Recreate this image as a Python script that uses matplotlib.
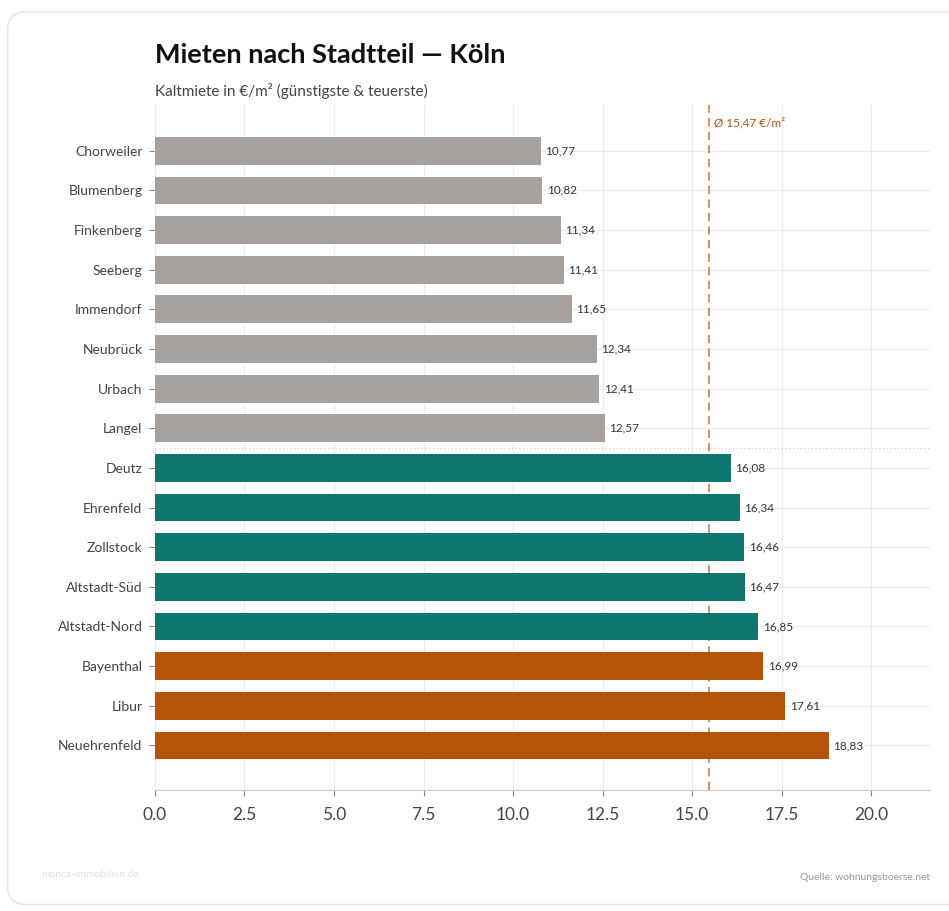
import matplotlib.pyplot as plt
from matplotlib.patches import FancyBboxPatch

# Kaltmiete in €/m², günstigste 8 und teuerste 8 Stadtteile
districts = ['Chorweiler', 'Blumenberg', 'Finkenberg', 'Seeberg', 'Immendorf',
             'Neubrück', 'Urbach', 'Langel', 'Deutz', 'Ehrenfeld', 'Zollstock',
             'Altstadt-Süd', 'Altstadt-Nord', 'Bayenthal', 'Libur', 'Neuehrenfeld']
rents = [10.77, 10.82, 11.34, 11.41, 11.65, 12.34, 12.41, 12.57,
         16.08, 16.34, 16.46, 16.47, 16.85, 16.99, 17.61, 18.83]
groups = ['low'] * 8 + ['high'] * 5 + ['top'] * 3
average = 15.47

colors = {'low': '#a8a29e', 'high': '#0f766e', 'top': '#b45309'}
plt.rcParams['font.family'] = ['Lato', 'DejaVu Sans']

fig = plt.figure(figsize=(9.49, 9.11), dpi=100)
fig.patch.set_facecolor('white')

# card background
card = FancyBboxPatch((0.008, 0.007), 1.05, 0.98, transform=fig.transFigure,
                      boxstyle='round,pad=0,rounding_size=0.02',
                      facecolor='white', edgecolor='#e8e8e8', linewidth=1.2, zorder=-10)
fig.patches.append(card)

ax = fig.add_axes([0.1633, 0.133, 0.817, 0.752])
ax.set_facecolor('none')
ypos = list(range(len(districts)))
ax.barh(ypos, rents, height=0.7, color=[colors[g] for g in groups], zorder=2)

for y, v in zip(ypos, rents):
    ax.text(v + 0.12, y, f'{v:.2f}'.replace('.', ','), va='center', ha='left',
            fontsize=8.5, color='#333333', zorder=3)

# Durchschnittslinie hinter den Balken
ax.axvline(average, color='#d49563', linestyle=(0, (4, 2.5)), linewidth=1.5, zorder=1.5)
ax.text(average + 0.15, -0.7, f'Ø {average:.2f} €/m²'.replace('.', ','),
        color='#b45309', fontsize=8.5, va='center', ha='left')
ax.axhline(7.5, color='#d0d0d0', linestyle=(0, (1, 2)), linewidth=0.9, zorder=1)

ax.set_yticks(ypos)
ax.set_yticklabels(districts, fontsize=10, color='#444444')
ax.set_ylim(len(districts) - 1 + 1.12, -1.16)
ax.set_xlim(0, max(rents) * 1.15)
ax.set_xticks([0, 2.5, 5, 7.5, 10, 12.5, 15, 17.5, 20])
ax.set_xticklabels(['0.0', '2.5', '5.0', '7.5', '10.0', '12.5', '15.0', '17.5', '20.0'],
                   fontsize=12.5, color='#444444')
ax.tick_params(axis='y', length=4, color='#888888', width=0.8, pad=5)
ax.tick_params(axis='x', length=4, color='#888888', width=0.8, pad=8)

ax.grid(True, color='#ececec', linewidth=0.8, zorder=0)
ax.set_axisbelow(True)
for s in ['top', 'right', 'left']:
    ax.spines[s].set_visible(False)
ax.spines['bottom'].set_color('#cccccc')

fig.text(0.1633, 0.94, 'Mieten nach Stadtteil — Köln', fontsize=19.5, fontweight='bold',
         color='#111111', va='center', ha='left')
fig.text(0.1633, 0.9, 'Kaltmiete in €/m² (günstigste & teuerste)', fontsize=11,
         color='#444444', va='center', ha='left')
fig.text(0.043, 0.04, 'monca-immobilien.de', fontsize=7.5, color='#e2e2e2',
         va='center', ha='left')
fig.text(0.98, 0.037, 'Quelle: wohnungsboerse.net', fontsize=7.5, color='#999999',
         va='center', ha='right')

fig.savefig('out.png', dpi=100, facecolor='white')
